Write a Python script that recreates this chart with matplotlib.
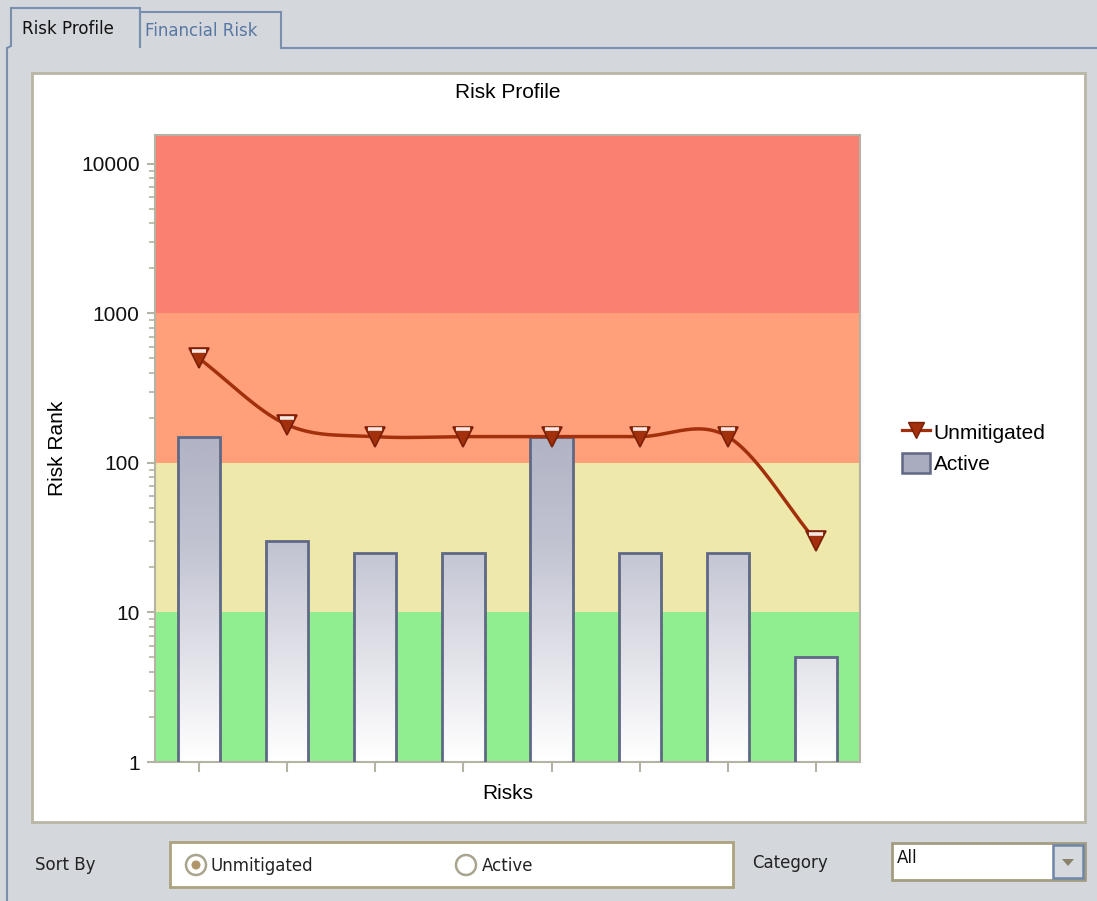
import numpy as np
import matplotlib
matplotlib.use("Agg")
import matplotlib.pyplot as plt
from matplotlib.patches import Rectangle, Circle, Polygon
from matplotlib.lines import Line2D
from matplotlib.image import AxesImage
from matplotlib.colors import LinearSegmentedColormap
import matplotlib.transforms as mtrans

# ---------------- data ----------------
risks = list(range(8))
active = [150, 30, 25, 25, 150, 25, 25, 5]
unmitigated = [500, 180, 150, 150, 150, 150, 150, 30]
band_edges = [1, 10, 100, 1000, 15600]
band_colors = ["#90EE90", "#EEE8AA", "#FFA07A", "#FA8072"]
ytick_vals = [1, 10, 100, 1000, 10000]
ytick_labels = ["1", "10", "100", "1000", "10000"]
title = "Risk Profile"
xlabel = "Risks"
ylabel = "Risk Rank"
legend_labels = ["Unmitigated", "Active"]
tab_labels = ["Risk Profile", "Financial Risk"]
sort_label = "Sort By"
sort_options = ["Unmitigated", "Active"]
category_label = "Category"
category_value = "All"

W, H = 1097, 901
UI_BG = "#D4D8DC"
TAB_BORDER = "#7890AE"
GRID = "#B5B3A3"
LINE_C = "#A3300C"
BAR_EDGE = "#5F6884"
CHART_FONT = "Liberation Sans"
UI_FONT = "DejaVu Sans"
UI_SIZE = 12

fig = plt.figure(figsize=(W / 100, H / 100), dpi=100, facecolor=UI_BG)

# ---------------- background UI (pixel coordinates) ----------------
bg = fig.add_axes([0, 0, 1, 1], zorder=-5)
bg.set_xlim(0, W)
bg.set_ylim(H, 0)
bg.axis("off")

# frame lines
bg.plot([7, 7], [48, H], color=TAB_BORDER, lw=1.5)
bg.plot([281, W], [48, 48], color=TAB_BORDER, lw=1.5)
# active tab
bg.add_patch(Polygon([[7, 48], [11, 46], [11, 8], [140, 8], [140, 48]],
                     closed=False, fill=False, edgecolor=TAB_BORDER, lw=1.5))
bg.text(22, 29, tab_labels[0], fontsize=UI_SIZE, family=UI_FONT, color="#111111",
        va="center", ha="left")
# inactive tab
bg.add_patch(Polygon([[140, 48], [140, 12], [281, 12], [281, 48]],
                     closed=False, fill=False, edgecolor=TAB_BORDER, lw=1.5))
bg.text(145, 31, tab_labels[1], fontsize=UI_SIZE, family=UI_FONT, color="#5877A3",
        va="center", ha="left")

# white chart panel
bg.add_patch(Rectangle((32, 73), 1053, 749, facecolor="white",
                       edgecolor="#B9B6A3", lw=2))

# bottom controls
bg.text(35, 865, sort_label, fontsize=UI_SIZE, family=UI_FONT, color="#222222",
        va="center", ha="left")
bg.add_patch(Rectangle((170, 842), 563, 45, facecolor="white",
                       edgecolor="#ADA27E", lw=2))
for cx, tx, lab, sel in [(196, 210, sort_options[0], True),
                         (466, 482, sort_options[1], False)]:
    bg.add_patch(Circle((cx, 865), 10, facecolor="white", edgecolor="#A9A48E", lw=1.8))
    if sel:
        bg.add_patch(Circle((cx, 865), 4.5, facecolor="#B0946A", edgecolor="none"))
    bg.text(tx, 866, lab, fontsize=UI_SIZE, family=UI_FONT, color="#222222",
            va="center", ha="left")
bg.text(752, 863, category_label, fontsize=UI_SIZE, family=UI_FONT, color="#222222",
        va="center", ha="left")
bg.add_patch(Rectangle((892, 843), 193, 37, facecolor="white",
                       edgecolor="#A49C80", lw=2))
bg.text(897, 858, category_value, fontsize=UI_SIZE, family=UI_FONT, color="#111111",
        va="center", ha="left")
bg.add_patch(Rectangle((1053, 845), 30, 33, facecolor="#D6DADE",
                       edgecolor="#6E87A8", lw=1.8))
bg.add_patch(Polygon([[1062, 859], [1074, 859], [1068, 866]], closed=True,
                     facecolor="#8C826C", edgecolor="none"))

# ---------------- chart ----------------
L, R, T, B = 155, 860, 135, 762
ax = fig.add_axes([L / W, 1 - B / H, (R - L) / W, (B - T) / H])
ax.set_yscale("log")
ax.set_xlim(-0.5, 7.5)
ax.set_ylim(band_edges[0], band_edges[-1])

for lo, hi, c in zip(band_edges[:-1], band_edges[1:], band_colors):
    ax.axhspan(lo, hi, color=c, lw=0, zorder=0)

bars = ax.bar(risks, active, width=0.48, bottom=0, facecolor="none",
              edgecolor=BAR_EDGE, linewidth=2, zorder=3)

# vertical gradient fill (axes fraction), clipped to each bar
cmap = LinearSegmentedColormap.from_list("g", ["#FFFFFF", "#C2C4D2", "#A1A4B8", "#9093A9"])
grad = np.linspace(0, 1, 256).reshape(-1, 1)
for b in bars:
    im = AxesImage(ax, cmap=cmap, origin="lower", extent=(0, 1, 0, 1),
                   transform=ax.transAxes, interpolation="bilinear", zorder=2)
    im.set_data(grad * 0.98)
    im.set_clim(0, 1)
    ax.add_image(im)
    im.set_clip_path(b)

# smoothed line (Catmull-Rom in log space)
def catmull(xs, ys, n=40):
    P = np.column_stack([xs, ys]).astype(float)
    Pe = np.vstack([2 * P[0] - P[1], P, 2 * P[-1] - P[-2]])
    out = []
    t = np.linspace(0, 1, n)[:, None]
    for i in range(len(P) - 1):
        p0, p1, p2, p3 = Pe[i:i + 4]
        pts = 0.5 * ((2 * p1) + (-p0 + p2) * t + (2 * p0 - 5 * p1 + 4 * p2 - p3) * t ** 2
                     + (-p0 + 3 * p1 - 3 * p2 + p3) * t ** 3)
        out.append(pts)
    return np.vstack(out)

sm = catmull(risks, np.log10(unmitigated))
ax.plot(sm[:, 0], 10 ** sm[:, 1], color=LINE_C, lw=2.5, zorder=4,
        solid_capstyle="round")
ax.plot(risks, unmitigated, linestyle="none", marker="v", markersize=14.5,
        markerfacecolor="#A3300C", markeredgecolor="#7A1E06", markeredgewidth=1.2,
        zorder=5)
hl = ax.transData + mtrans.ScaledTranslation(0, 5.2 / 72, fig.dpi_scale_trans)
ax.plot(risks, unmitigated, linestyle="none", marker="_", markersize=10,
        markeredgecolor="#F3E8E4", markeredgewidth=2.6, zorder=6, transform=hl)

# axes styling
for s in ax.spines.values():
    s.set_color(GRID)
    s.set_linewidth(1.5)
ax.set_yticks(ytick_vals)
ax.set_yticklabels(ytick_labels, fontsize=15, family=CHART_FONT, color="#111111")
ax.tick_params(axis="y", which="major", length=6, width=1.5, color=GRID, pad=5)
ax.tick_params(axis="y", which="minor", length=4, width=1.2, color=GRID)
ax.set_xticks(risks)
ax.set_xticklabels([])
ax.tick_params(axis="x", length=7, width=1.5, color=GRID)
ax.set_xlabel(xlabel, fontsize=15, family=CHART_FONT, labelpad=5)
ax.set_ylabel(ylabel, fontsize=15, family=CHART_FONT, labelpad=10)
ax.set_title(title, fontsize=15, family=CHART_FONT, pad=27)

# legend
handles = [Line2D([], [], color=LINE_C, lw=2.3, marker="v", markersize=12,
                  markerfacecolor="#A3300C", markeredgecolor="#7A1E06"),
           Rectangle((0, 0), 1, 1, facecolor="#A9ACBF", edgecolor=BAR_EDGE, lw=1.8)]
fig.legend(handles, legend_labels, loc="center left",
           bbox_to_anchor=(892 / W, 1 - 448 / H), frameon=False,
           prop={"family": CHART_FONT, "size": 15}, handlelength=1.3,
           handleheight=1.1, handletextpad=0.2, labelspacing=0.5, borderpad=0)

fig.savefig("out.png", dpi=100, facecolor=UI_BG)
